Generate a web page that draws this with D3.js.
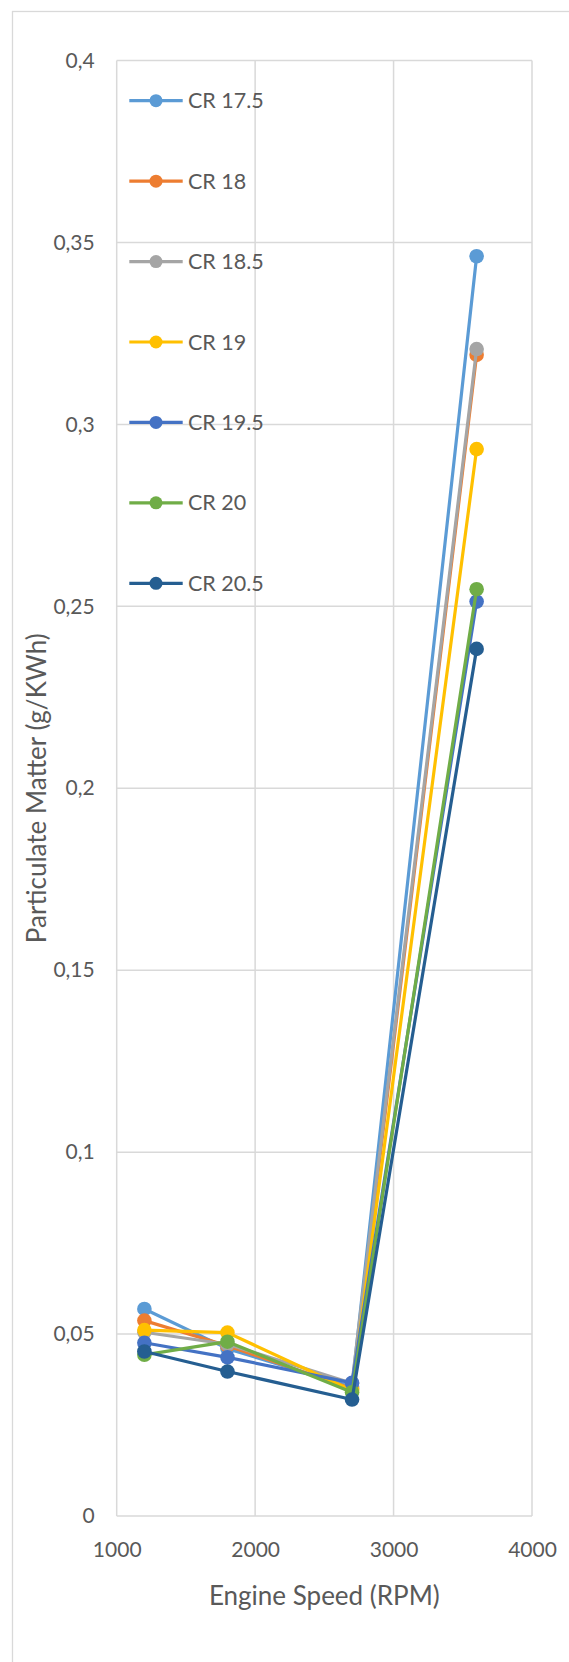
<!DOCTYPE html>
<html><head><meta charset="utf-8">
<script src="https://cdn.jsdelivr.net/npm/d3@7"></script>
<style>
html,body{margin:0;padding:0;background:#fff;}
svg{display:block;font-family:Lato,"Open Sans",sans-serif;}
</style></head>
<body><svg id="chart" width="569" height="1662"></svg>
<script>
const speeds = [1200, 1800, 2700, 3600];
const seriesNames = ["CR 17.5","CR 18","CR 18.5","CR 19","CR 19.5","CR 20","CR 20.5"];
const cr175 = [0.0569, 0.0460, 0.0355, 0.3462];
const cr18  = [0.0537, 0.0468, 0.0350, 0.3191];
const cr185 = [0.0505, 0.0472, 0.0365, 0.3207];
const cr19  = [0.0511, 0.0504, 0.0345, 0.2932];
const cr195 = [0.0476, 0.0436, 0.0366, 0.2513];
const cr20  = [0.0443, 0.0479, 0.0340, 0.2547];
const cr205 = [0.0452, 0.0397, 0.0320, 0.2383];
const seriesValues = [cr175, cr18, cr185, cr19, cr195, cr20, cr205];
const colors = ["#5B9BD5","#ED7D31","#A5A5A5","#FFC000","#4472C4","#70AD47","#255E91"];
const xTicks = [1000, 2000, 3000, 4000];
const yTicks = [0, 0.05, 0.1, 0.15, 0.2, 0.25, 0.3, 0.35, 0.4];
const xTitle = "Engine Speed (RPM)";
const yTitle = "Particulate Matter (g/KWh)";

const svg = d3.select("#chart");
const grid = "#d9d9d9", txt = "#595959";

// chart frame
svg.append("rect").attr("x",12.5).attr("y",11.5).attr("width",620).attr("height",1720)
  .attr("fill","#fff").attr("stroke",grid).attr("stroke-width",1.3);

const L = 116.7, R = 532, T = 60.5, B = 1516;
const x = d3.scaleLinear().domain([1000,4000]).range([L,R]);
const y = d3.scaleLinear().domain([0,0.4]).range([B,T]);

// gridlines
svg.append("g").selectAll("line").data(yTicks).join("line")
  .attr("x1",L).attr("x2",R).attr("y1",d=>y(d)).attr("y2",d=>y(d))
  .attr("stroke",grid).attr("stroke-width",1.5);
svg.append("g").selectAll("line").data(xTicks).join("line")
  .attr("y1",T).attr("y2",B).attr("x1",d=>x(d)).attr("x2",d=>x(d))
  .attr("stroke",grid).attr("stroke-width",1.5);

// axes labels via d3 axes
const fmt = d => d3.format(".2~f")(d).replace(".", ",");
const yAxis = svg.append("g").attr("transform",`translate(${L},0)`)
  .call(d3.axisLeft(y).tickValues(yTicks).tickFormat(fmt).tickSize(0).tickPadding(22));
yAxis.select(".domain").remove();
yAxis.selectAll("text").attr("fill",txt).style("font-size","21px").style("font-family","Lato, 'Open Sans', sans-serif");

const xAxis = svg.append("g").attr("transform",`translate(0,${B})`)
  .call(d3.axisBottom(x).tickValues(xTicks).tickFormat(d3.format("d")).tickSize(0).tickPadding(26));
xAxis.select(".domain").remove();
xAxis.selectAll("text").attr("fill",txt).style("font-size","21px").style("font-family","Lato, 'Open Sans', sans-serif");

// axis titles
svg.append("text").attr("x",(L+R)/2).attr("y",1596).attr("dy","0.35em")
  .attr("text-anchor","middle").attr("fill",txt).style("font-size","26px").text(xTitle);
svg.append("text").attr("transform",`translate(37,${(T+B)/2}) rotate(-90)`).attr("dy","0.35em")
  .attr("text-anchor","middle").attr("fill",txt).style("font-size","26px").text(yTitle);

// series
const line = d3.line().x((d,i)=>x(speeds[i])).y(d=>y(d));
seriesValues.forEach((vals,k)=>{
  const g = svg.append("g");
  g.append("path").datum(vals).attr("d",line).attr("fill","none")
    .attr("stroke",colors[k]).attr("stroke-width",3.2).attr("stroke-linejoin","round");
  g.selectAll("circle").data(vals).join("circle")
    .attr("cx",(d,i)=>x(speeds[i])).attr("cy",d=>y(d)).attr("r",7.3)
    .attr("fill",colors[k]);
});

// legend
const legY = d3.scalePoint().domain(seriesNames).range([100.7, 583.3]);
const leg = svg.append("g").selectAll("g").data(seriesNames).join("g")
  .attr("transform",d=>`translate(0,${legY(d)})`);
leg.append("line").attr("x1",129.3).attr("x2",182.7).attr("y1",0).attr("y2",0)
  .attr("stroke",(d,i)=>colors[i]).attr("stroke-width",3.2);
leg.append("circle").attr("cx",156).attr("cy",0).attr("r",6.5).attr("fill",(d,i)=>colors[i]);
leg.append("text").attr("x",188).attr("y",0).attr("dy","0.35em").attr("fill",txt)
  .style("font-size","21.5px").text(d=>d);
</script>
</body></html>
